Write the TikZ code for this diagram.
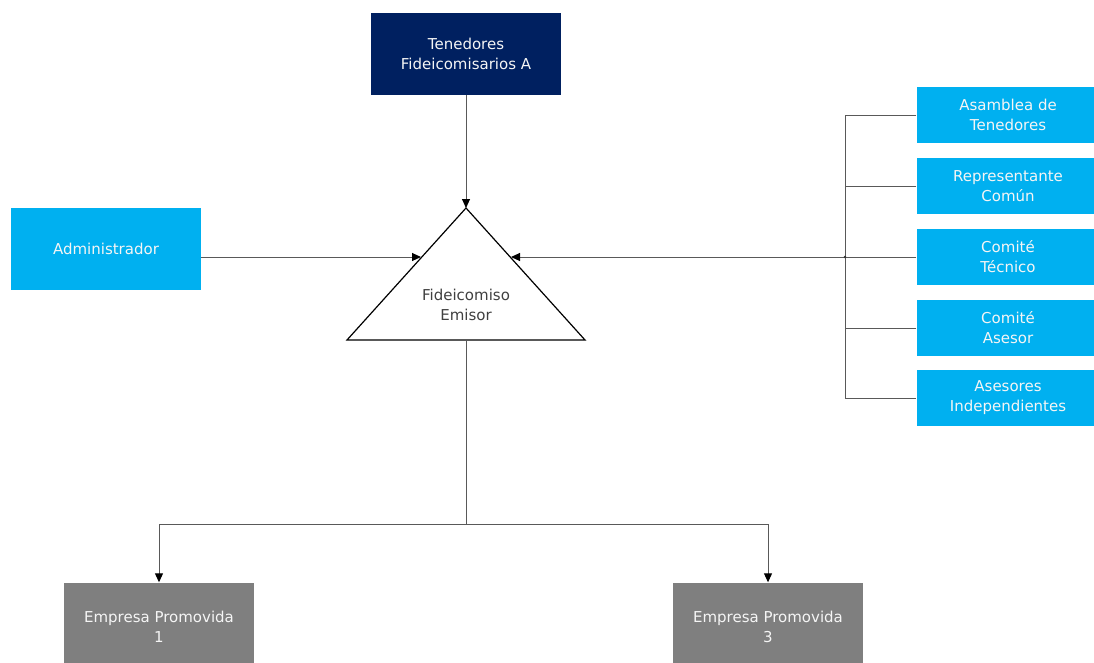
\documentclass[tikz,border=0pt]{standalone}
\usepackage{fontspec}
\setmainfont{DejaVu Sans}
\usepackage{tikz}
\usepackage{xcolor}
\usetikzlibrary{arrows.meta,calc}
\definecolor{navybox}{HTML}{002060}
\definecolor{cyanbox}{HTML}{00B0F0}
\definecolor{graybox}{HTML}{7F7F7F}

\begin{document}
\begin{tikzpicture}[x=1pt,y=-1pt,
  every node/.style={font=\fontsize{15}{20}\selectfont,align=center},
  box/.style={minimum width=190pt,minimum height=82pt,inner sep=0pt,text=white!92!gray},
  sidebox/.style={fill=cyanbox,minimum width=183pt,minimum height=56pt,inner sep=0pt,text=white!92!gray},
  wire/.style={draw=black!65,line width=1pt},
  arr/.style={wire,-{Triangle[length=9pt,width=8pt,color=black]}}]
\useasboundingbox (0,0) rectangle (1094,662);
% top and left
\node[box,fill=navybox] (ten) at (466,54) {Tenedores\\Fideicomisarios A};
\node[box,fill=cyanbox] (adm) at (106,249) {Administrador};
% triangle
\coordinate (fidTop) at (466,208);
\coordinate (fidBL) at (347,340);
\coordinate (fidBR) at (585,340);
\coordinate (fidBase) at (466,340);
\coordinate (fidL) at (421,257);
\coordinate (fidR) at (511,257);
\draw[line width=1.2pt] (fidTop) -- (fidBL) -- (fidBR) -- cycle;
\node[text=black!75] (fid) at (466,305) {Fideicomiso\\Emisor};
% right column
\node[sidebox] (asam) at (1008,115) {Asamblea de\\Tenedores};
\node[sidebox] (repr) at (1008,186) {Representante\\Común};
\node[sidebox] (tec) at (1008,257) {Comité\\Técnico};
\node[sidebox] (ase) at (1008,328) {Comité\\Asesor};
\node[sidebox] (indep) at (1008,398) {Asesores\\Independientes};
\coordinate (bus) at (845,257);
% bottom
\node[box,fill=graybox,minimum height=89pt] (ep1) at (159,627) {Empresa Promovida\\1};
\node[box,fill=graybox,minimum height=89pt] (ep3) at (768,627) {Empresa Promovida\\3};
\coordinate (split) at (466,524);
% connectors
\draw[arr] (ten.south) -- (fidTop);
\draw[arr] (adm.east |- fidL) -- (fidL);
\draw[wire] (asam.west) -- (asam.west -| bus) -- (indep.west -| bus) -- (indep.west);
\draw[wire] (repr.west) -- (repr.west -| bus);
\draw[wire] (ase.west) -- (ase.west -| bus);
\draw[arr] (tec.west) -- (fidR);
\fill[black!80] (bus) circle (1.3pt);
\draw[wire] (fidBase) -- (split);
\draw[arr] (split) -| (ep1.north);
\draw[arr] (split) -| (ep3.north);
\end{tikzpicture}
\end{document}
